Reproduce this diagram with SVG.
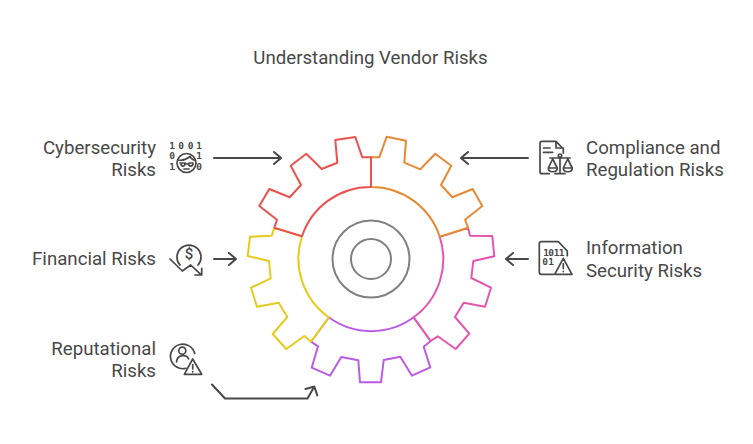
<svg xmlns="http://www.w3.org/2000/svg" width="753" height="444" viewBox="0 0 753 444">
<style>
text{font-family:Roboto,"Liberation Sans",sans-serif;font-size:18.67px;fill:#484848}
.e{text-anchor:end}
.g{fill:#fff;stroke-width:2;stroke-linejoin:round}
.c{fill:none;stroke:#808080;stroke-width:2}
.a{fill:none;stroke:#484848;stroke-width:2;stroke-linecap:round;stroke-linejoin:round}
.i{fill:none;stroke:#484848;stroke-width:1.7;stroke-linecap:round;stroke-linejoin:round}
.b{font-family:"DejaVu Sans Mono",monospace;font-size:9.5px;font-weight:700;text-anchor:middle}
</style>
<rect width="753" height="444" fill="#fff"/>
<text id="title" x="370.5" y="64" text-anchor="middle">Understanding Vendor Risks</text>
<g id="gear">
<g id="segment-purple"><path class="g" stroke="#BB5BE6" d="M413.7 317.3L430.7 341L423.7 346.7L430.3 367.3L412 375.7L400.3 356.7L383.7 360L381 382.3L360 382.3L358.3 360.3L341.3 357L330 375.7L311.7 367.7L318 346.3L311 341.7L328.7 317.3A72 72 0 0 0 413.7 317.3Z"/></g>
<g id="segment-yellow"><path class="g" stroke="#E5CB20" d="M274.3 227.7L271.7 235.7L250 236.7L247.7 256L269 261L270.7 278.3L251 287.7L257 306.7L278.7 302.7L287.3 317L272.7 334L286.3 349L304.3 336L311 341.7L328.7 317.3A72 72 0 0 1 302 236.3Z"/></g>
<g id="segment-pink"><path class="g" stroke="#E455AE" d="M468 227.7L470 235.7L492.3 236L494.3 256.3L473.3 261L471.3 278L491 287.7L485 306.7L463.7 302.7L455 317L469.3 333.7L455.7 349L437.7 336.3L430.7 341L413.7 317.3A72 72 0 0 0 439.7 236.7Z"/></g>
<g id="segment-orange"><path class="g" stroke="#E58A35" d="M371 187L371 157.3L379.3 157.3L386.7 136.7L406 140.7L404.3 162.7L420.3 169.3L435.3 153.7L451.3 165.7L441 185L452.3 197.3L472.7 189L482.3 206L465 219.7L468 227.7L439.7 236.7A72 72 0 0 0 371 187Z"/></g>
<g id="segment-red"><path class="g" stroke="#E8534F" d="M371 187L371 157.3L362.3 157.3L355.3 137L335.3 140L337.3 162.7L321.7 169L306.3 153.7L290.7 165.7L301 185L289.7 197.3L269.3 189L259.3 206L277 219.7L274.3 227.7L302 236.3A72 72 0 0 1 371 187Z"/></g>
<circle class="c" cx="371" cy="259" r="38.5"/>
<circle class="c" cx="371" cy="259" r="20"/>
</g>
<g id="connectors">
<path class="a" d="M214 158H281M274 152L281 158L274 164"/>
<path class="a" d="M528 158H461M468 152L461 158L468 164"/>
<path class="a" d="M214 259H236M229 253L236 259L229 265"/>
<path class="a" d="M528 259H506M513 253L506 259L513 265"/>
<path class="a" d="M212 384.500L225 398.500H307.500L314.300 386.500M305.500 389L314.300 386.500L317.300 395.500"/>
</g>
<g id="node-cybersecurity">
<text class="e" x="156" y="154">Cybersecurity</text>
<text class="e" x="156" y="176">Risks</text>
<text class="b" x="172" y="149">1</text><text class="b" x="181" y="149">0</text><text class="b" x="190.500" y="149">0</text><text class="b" x="199" y="149">1</text>
<text class="b" x="172" y="159">0</text><text class="b" x="199" y="159">1</text>
<text class="b" x="172" y="170">1</text><text class="b" x="199" y="170">0</text>
<circle class="i" cx="186.500" cy="163" r="9.500"/>
<path class="i" d="M178.500 160C183 161 188 158 190 156.500C191 159 193 160 195 160.500M180 163H185L186.500 164H188L189 163H193M181 163.500C181 167 185 167 185 163.500M188.500 163.500C188.500 167 193 167 193 163.500M184 169H189"/>
</g>
<g id="node-financial">
<text class="e" x="156" y="265">Financial Risks</text>
<path class="i" d="M180 265A12 12 0 1 1 198 265"/>
<text x="189" y="259" text-anchor="middle" style="font-size:15px;font-weight:500">$</text>
<path class="i" d="M170 259L182.300 271L190.700 265L200.700 274.300M201.700 268.300V275H195"/>
</g>
<g id="node-reputational">
<text class="e" x="156" y="355">Reputational</text>
<text class="e" x="156" y="377">Risks</text>
<path class="i" d="M186 368.300A12.300 12.300 0 1 1 194.700 353.500"/>
<circle class="i" cx="182.300" cy="350.700" r="3.500"/>
<path class="i" d="M176.500 362C177 354 188 354 188.500 359"/>
<path class="i" d="M192.700 359L201.700 374.300H184.300ZM192.700 364.500V369M192.700 371.700V372"/>
</g>
<g id="node-compliance">
<text x="586" y="154">Compliance and</text>
<text x="586" y="176">Regulation Risks</text>
<path class="i" d="M549.300 173.700H542Q540 173.700 540 171.700V143.300Q540 141.300 542 141.300H556L563.300 149V153M556 141.300V148H563.300M543.500 148H550M543.500 152.300H552.700"/>
<path class="i" d="M560 157V173.700M555 173.700H565M550 158H570M552.700 159L548.300 168H557.300ZM548.300 168C548.300 173 557.300 173 557.300 168M567.700 159L563.300 168H572.300ZM563.300 168C563.300 173 572.300 173 572.300 168"/>
<circle class="i" cx="560" cy="155.700" r="1.700"/>
</g>
<g id="node-information">
<text x="586" y="254">Information</text>
<text x="586" y="277">Security Risks</text>
<path class="i" d="M553.300 274.300H541.300Q539.300 274.300 539.300 272.300V243.700Q539.300 241.700 541.300 241.700H558.300L567.300 251V255.700"/>
<text class="b" x="546" y="255.500">1</text><text class="b" x="551" y="255.500">0</text><text class="b" x="556.500" y="255.500">1</text><text class="b" x="561.500" y="255.500">1</text>
<text class="b" x="545" y="265">0</text><text class="b" x="551" y="265">1</text>
<path class="i" d="M563.300 258.300L572 274.300H554.700ZM563.300 263.500V268.500M563.300 271.300V271.600"/>
</g>
</svg>
